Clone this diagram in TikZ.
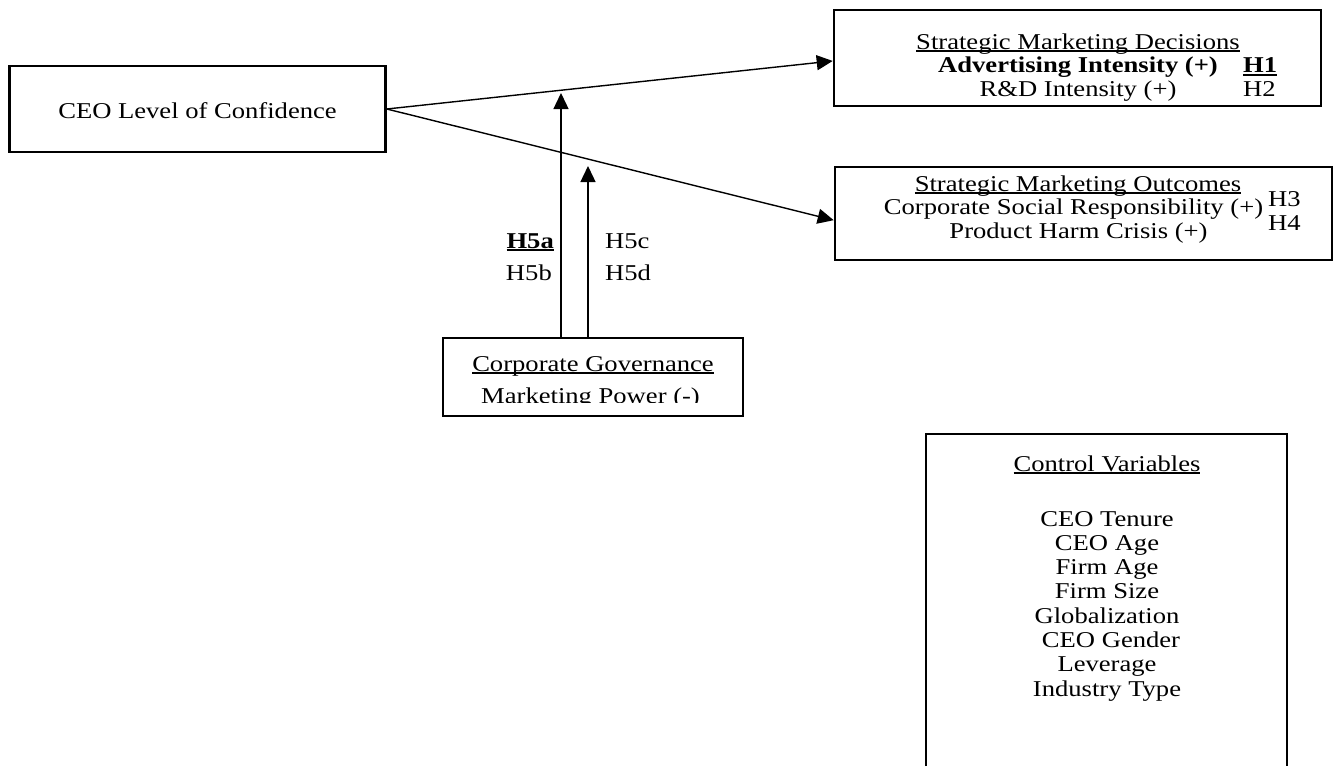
\documentclass[tikz,border=0pt]{standalone}
\usepackage{fontspec}
\usepackage{graphicx}
\setmainfont{Liberation Serif}
\usetikzlibrary{arrows.meta,calc}
\newcommand{\myul}[1]{\setbox0\hbox{#1}\rlap{\rule[-3pt]{\wd0}{1.3pt}}\box0}
\newcommand{\mybul}[1]{\setbox0\hbox{#1}\rlap{\rule[-3.8pt]{\wd0}{2.2pt}}\box0}
\newcommand{\sq}[1]{\scalebox{1}[0.85]{#1}}
\begin{document}
\begin{tikzpicture}[x=1pt,y=-1pt,
  box/.style={draw,line width=2.6pt,inner sep=0pt},
  txt/.style={inner sep=0pt,anchor=base,font=\fontsize{26.6}{31}\selectfont},
  link/.style={line width=1.4pt,-{Triangle[length=16pt,width=15pt]}}]
\useasboundingbox (0,0) rectangle (1335,766);
% boxes
\node[box,minimum width=376pt,minimum height=86pt] (ceo) at (197.5,109) {};
\node[box,minimum width=487pt,minimum height=96pt] (smd) at (1077.5,58) {};
\node[box,minimum width=497pt,minimum height=93pt] (smo) at (1083.5,213.5) {};
\node[box,minimum width=300pt,minimum height=78pt] (cg) at (593,377) {};
% control box (bottom edge lies outside the picture)
\coordinate (cbl) at (926,766);
\coordinate (ctl) at (926,434);
\coordinate (ctr) at (1287,434);
\coordinate (cbr) at (1287,766);
\draw[line width=2.6pt,line join=miter] (cbl) -- (ctl) -- (ctr) -- (cbr);
% texts
\node[txt] (ceot) at (197.5,118) {\sq{CEO Level of Confidence}};
\node[txt] (smdt) at (1078,49) {\sq{\myul{Strategic Marketing Decisions}}};
\node[txt] (adv) at (1078,72.5) {\sq{\bfseries Advertising Intensity (+)}};
\node[txt] (rd) at (1078,96) {\sq{R\&D Intensity (+)}};
\node[txt,anchor=base west] (h1) at (1243,72.5) {\sq{\bfseries\mybul{H1}}};
\node[txt,anchor=base west] (h2) at (1243,96.5) {\sq{H2}};
\node[txt] (smot) at (1078,191) {\sq{\myul{Strategic Marketing Outcomes}}};
\node[txt] (csr) at (1073.5,214.5) {\sq{Corporate Social Responsibility (+)}};
\node[txt] (phc) at (1078.5,238) {\sq{Product Harm Crisis (+)}};
\node[txt,anchor=base west] (h3) at (1268,206) {\sq{H3}};
\node[txt,anchor=base west] (h4) at (1268,230) {\sq{H4}};
\node[txt,anchor=base east] (h5a) at (554,248) {\sq{\bfseries\mybul{H5a}}};
\node[txt,anchor=base east] (h5b) at (552,280) {\sq{H5b}};
\node[txt,anchor=base west] (h5c) at (605,248) {\sq{H5c}};
\node[txt,anchor=base west] (h5d) at (605,280) {\sq{H5d}};
\node[txt] (cgt) at (593,371) {\sq{\myul{Corporate Governance}}};
\begin{scope}
\clip (cg.north west) rectangle ($(cg.south east)+(0,-15)$);
\node[txt] (mp) at (590.5,403) {\sq{Marketing Power (-)}};
\end{scope}
\node[txt] (ctlt) at (1107,471) {\sq{\myul{Control Variables}}};
\node[txt] (c1) at (1107,526) {\sq{CEO Tenure}};
\node[txt] (c2) at (1107,550.3) {\sq{CEO Age}};
\node[txt] (c3) at (1107,574.6) {\sq{Firm Age}};
\node[txt] (c4) at (1107,598.9) {\sq{Firm Size}};
\node[txt] (c5) at (1107,623.2) {\sq{Globalization}};
\node[txt] (c6) at (1111,647.5) {\sq{CEO Gender}};
\node[txt] (c7) at (1107,671.8) {\sq{Leverage}};
\node[txt] (c8) at (1107,696.1) {\sq{Industry Type}};
% connectors
\draw[link] (ceo.east) -- ($(smd.north west)!0.53!(smd.south west)$);
\draw[link] (ceo.east) -- ($(smo.north west)!0.57!(smo.south west)$);
\coordinate (t1) at (561,93);
\coordinate (t2) at (588,166);
\draw[link] (cg.north -| t1) -- (t1);
\draw[link] (cg.north -| t2) -- (t2);
\end{tikzpicture}
\end{document}
